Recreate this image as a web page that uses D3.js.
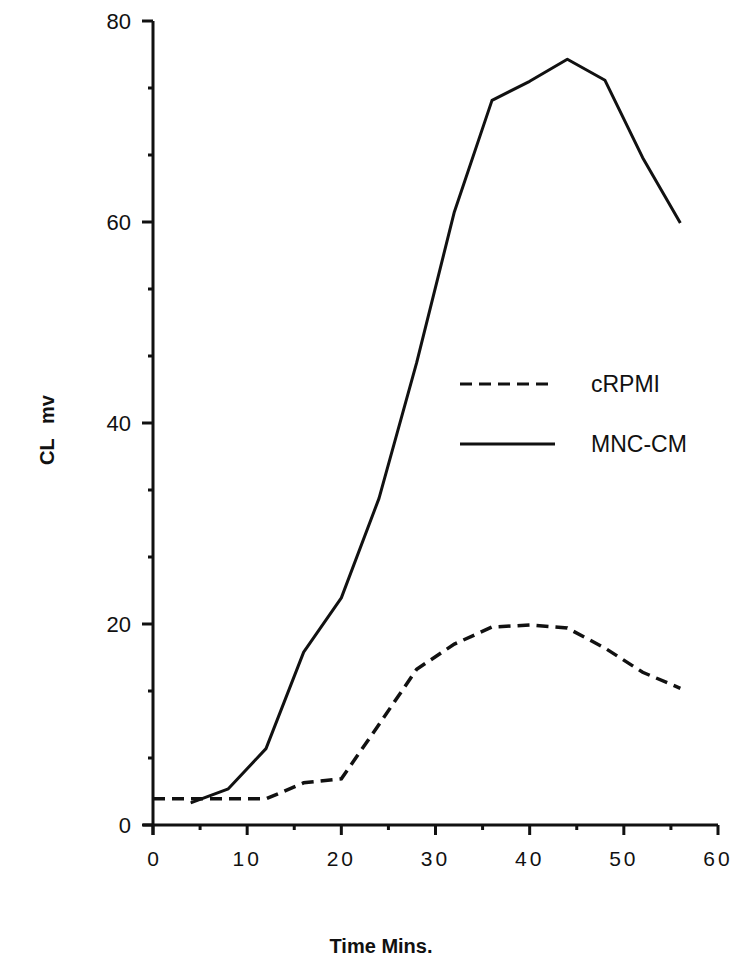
<!DOCTYPE html>
<html>
<head>
<meta charset="utf-8">
<script src="https://cdn.jsdelivr.net/npm/d3@7"></script>
<style>
  body { margin: 0; background: #fff; }
  text { font-family: "Liberation Sans", Arial, sans-serif; fill: #111; }
</style>
</head>
<body>
<div id="chart"></div>
<script>
// data
var times = [4, 8, 12, 16, 20, 24, 28, 32, 36, 40, 44, 48, 52, 56];
var mnc_cm = [2.2, 3.6, 7.6, 17.2, 22.6, 32.5, 46.0, 61.0, 72.1, 74.0, 76.2, 74.1, 66.4, 59.9];
var crpmi_times = [0, 4, 8, 12, 16, 20, 24, 28, 32, 36, 40, 44, 48, 52, 56];
var crpmi = [2.6, 2.6, 2.6, 2.6, 4.2, 4.6, 10.0, 15.5, 18.0, 19.7, 19.9, 19.6, 17.6, 15.2, 13.6];
var x_ticks = [0, 10, 20, 30, 40, 50, 60];
var y_ticks = [0, 20, 40, 60, 80];
var legend_items = [
    {name: "cRPMI", dash: "12,7"},
    {name: "MNC-CM", dash: null}
];

var width = 735, height = 959;

var svg = d3.select("#chart")
    .append("svg")
    .attr("width", width)
    .attr("height", height);

var x = d3.scaleLinear().domain([0, 60]).range([153, 718]);
var y = d3.scaleLinear().domain([0, 80]).range([825, 21]);

// x axis
var xAxis = svg.append("g").attr("transform", "translate(0," + y(0) + ")");
xAxis.append("line")
    .attr("x1", x(0) - 10).attr("x2", x(60))
    .attr("stroke", "#111").attr("stroke-width", 3);
xAxis.selectAll(".minor")
    .data(d3.range(5, 60, 10))
    .join("line")
    .attr("x1", d => x(d)).attr("x2", d => x(d))
    .attr("y1", 0).attr("y2", 5)
    .attr("stroke", "#111").attr("stroke-width", 3);
xAxis.selectAll(".major")
    .data(x_ticks)
    .join("line")
    .attr("x1", d => x(d)).attr("x2", d => x(d))
    .attr("y1", 0).attr("y2", 10)
    .attr("stroke", "#111").attr("stroke-width", 3);
xAxis.selectAll("text")
    .data(x_ticks)
    .join("text")
    .attr("x", d => x(d))
    .attr("y", 41)
    .attr("text-anchor", "middle")
    .attr("font-size", 21)
    .attr("letter-spacing", d => d >= 10 ? "3px" : "0px")
    .text(d => d);

// y axis
var yAxis = svg.append("g").attr("transform", "translate(" + x(0) + ",0)");
yAxis.append("line")
    .attr("y1", y(0) + 10).attr("y2", y(80))
    .attr("stroke", "#111").attr("stroke-width", 3);
var y_minor = d3.range(0, 80, 20).flatMap(d => [d + 20 / 3, d + 40 / 3]);
yAxis.selectAll(".minor")
    .data(y_minor)
    .join("line")
    .attr("y1", d => y(d)).attr("y2", d => y(d))
    .attr("x1", 0).attr("x2", -5)
    .attr("stroke", "#111").attr("stroke-width", 3);
yAxis.selectAll(".major")
    .data(y_ticks)
    .join("line")
    .attr("y1", d => y(d)).attr("y2", d => y(d))
    .attr("x1", 0).attr("x2", -11)
    .attr("stroke", "#111").attr("stroke-width", 3);
yAxis.selectAll("text")
    .data(y_ticks)
    .join("text")
    .attr("x", -22)
    .attr("y", d => y(d) + 8)
    .attr("text-anchor", "end")
    .attr("font-size", 22)
    .text(d => d);

// axis titles
svg.append("text")
    .attr("transform", "translate(54,430) rotate(-90)")
    .attr("text-anchor", "middle")
    .attr("font-size", 20)
    .attr("font-weight", "bold")
    .attr("word-spacing", "9px")
    .text("CL mv");
svg.append("text")
    .attr("x", 381)
    .attr("y", 953)
    .attr("text-anchor", "middle")
    .attr("font-size", 20)
    .attr("font-weight", "bold")
    .text("Time Mins.");

// lines
var line = d3.line()
    .x(d => x(d[0]))
    .y(d => y(d[1]));

svg.append("path")
    .datum(d3.zip(times, mnc_cm))
    .attr("d", line)
    .attr("fill", "none")
    .attr("stroke", "#111")
    .attr("stroke-width", 3)
    .attr("stroke-linejoin", "round");

svg.append("path")
    .datum(d3.zip(crpmi_times, crpmi))
    .attr("d", line)
    .attr("fill", "none")
    .attr("stroke", "#111")
    .attr("stroke-width", 3.5)
    .attr("stroke-dasharray", "12,7");

// legend
var legend = svg.append("g").selectAll("g")
    .data(legend_items)
    .join("g")
    .attr("transform", (d, i) => "translate(460," + (384 + i * 60) + ")");
legend.append("line")
    .attr("x1", 0).attr("x2", 95)
    .attr("stroke", "#111")
    .attr("stroke-width", 3)
    .attr("stroke-dasharray", d => d.dash);
legend.append("text")
    .attr("x", 131)
    .attr("y", 8)
    .attr("font-size", 23)
    .text(d => d.name);
</script>
</body>
</html>
